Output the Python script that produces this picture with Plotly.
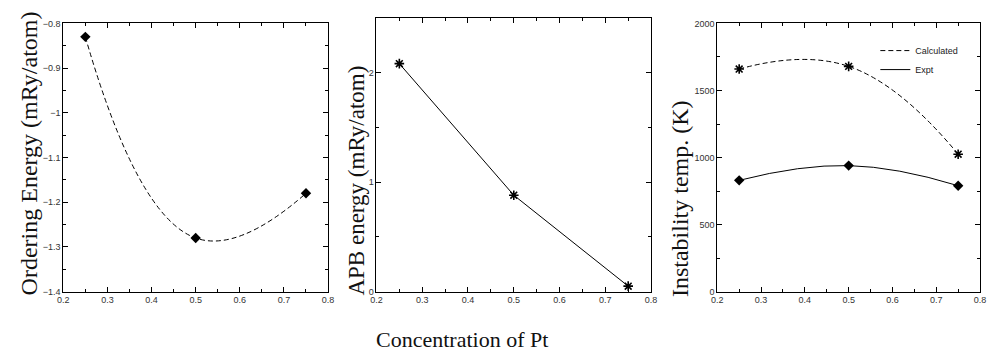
import plotly.graph_objects as go

# Pt concentration at which each quantity was evaluated
conc = [0.25, 0.50, 0.75]

# Ordering energy (mRy/atom)
ordering_energy = [-0.83, -1.28, -1.18]

# Anti-phase boundary energy (mRy/atom)
apb_energy = [2.08, 0.88, 0.05]

# Instability temperature (K)
tc_calculated = [1660, 1680, 1025]
tc_expt = [830, 940, 790]

W, H = 990, 353


def px_x(v):
    return v / W


def px_y(v):
    return 1 - v / H


fig = go.Figure()

dash = "5px,3px"
black = "#000000"
star = dict(symbol="asterisk-open", size=8, color=black, line=dict(color=black, width=1.6))
diamond = dict(symbol="diamond", size=8, color=black)

# Panel 1: ordering energy
fig.add_trace(go.Scatter(
    x=conc, y=ordering_energy, mode="lines+markers",
    line=dict(color=black, width=1, dash=dash, shape="spline", smoothing=1.3),
    marker=diamond, xaxis="x", yaxis="y", showlegend=False))

# Panel 2: APB energy
fig.add_trace(go.Scatter(
    x=conc, y=apb_energy, mode="lines+markers",
    line=dict(color=black, width=1),
    marker=star, xaxis="x2", yaxis="y2", showlegend=False))

# Panel 3: instability temperature, calculated vs experiment
fig.add_trace(go.Scatter(
    x=conc, y=tc_calculated, mode="lines", name="Calculated",
    line=dict(color=black, width=1, dash=dash, shape="spline", smoothing=1.3),
    xaxis="x3", yaxis="y3"))
fig.add_trace(go.Scatter(
    x=conc, y=tc_expt, mode="lines", name="Expt",
    line=dict(color=black, width=1, shape="spline", smoothing=1.3),
    xaxis="x3", yaxis="y3"))
fig.add_trace(go.Scatter(
    x=conc, y=tc_calculated, mode="markers", marker=star,
    xaxis="x3", yaxis="y3", showlegend=False))
fig.add_trace(go.Scatter(
    x=conc, y=tc_expt, mode="markers", marker=diamond,
    xaxis="x3", yaxis="y3", showlegend=False))

tick_font = dict(family="Liberation Sans, Arial, sans-serif", size=9, color="#333333")


def axis(domain, rng, dtick, minor_dtick, anchor):
    return dict(domain=domain, range=rng, dtick=dtick, tick0=0,
                showline=True, linecolor=black, linewidth=1, mirror="ticks",
                ticks="inside", ticklen=5, tickcolor=black, tickwidth=1,
                minor=dict(dtick=minor_dtick, ticks="inside", ticklen=3,
                           tickcolor=black, tickwidth=1),
                showgrid=False, zeroline=False, tickfont=tick_font,
                anchor=anchor, fixedrange=True)


bottom = px_y(295)
fig.update_layout(
    width=W, height=H,
    margin=dict(l=0, r=0, t=0, b=0),
    paper_bgcolor="white", plot_bgcolor="white",
    xaxis=axis([px_x(58), px_x(326)], [0.2, 0.8], 0.1, 0.05, "y"),
    yaxis=axis([bottom, px_y(19)], [-1.4, -0.8], 0.1, 0.05, "x"),
    xaxis2=axis([px_x(375), px_x(653)], [0.2, 0.8], 0.1, 0.05, "y2"),
    yaxis2=axis([bottom, px_y(13)], [0, 2.5], 1, 0.5, "x2"),
    xaxis3=axis([px_x(720), px_x(986)], [0.2, 0.8], 0.1, 0.05, "y3"),
    yaxis3=axis([bottom, px_y(19)], [0, 2000], 500, 250, "x3"),
    legend=dict(x=px_x(880), y=px_y(32), xanchor="left", yanchor="top",
                bgcolor="rgba(0,0,0,0)", itemwidth=30, tracegroupgap=0,
                font=dict(family="Liberation Sans, Arial, sans-serif", size=9, color="#222222")),
)

serif = "Liberation Serif, Times New Roman, serif"
titles = [
    ("Ordering Energy (mRy/atom)", 23, 153, 24),
    ("APB energy (mRy/atom)", 355, 181, 23),
    ("Instability temp. (K)", 683, 199, 24),
]
for text, cx, cy, size in titles:
    fig.add_annotation(text=text, x=px_x(cx), y=px_y(cy), xref="paper", yref="paper",
                       textangle=-90, showarrow=False,
                       font=dict(family=serif, size=size, color="#111111"),
                       xanchor="center", yanchor="middle")

fig.add_annotation(text="Concentration of Pt", x=px_x(462), y=px_y(344),
                   xref="paper", yref="paper", showarrow=False,
                   font=dict(family=serif, size=22, color="#111111"),
                   xanchor="center", yanchor="middle")

fig.write_html("out.html")
